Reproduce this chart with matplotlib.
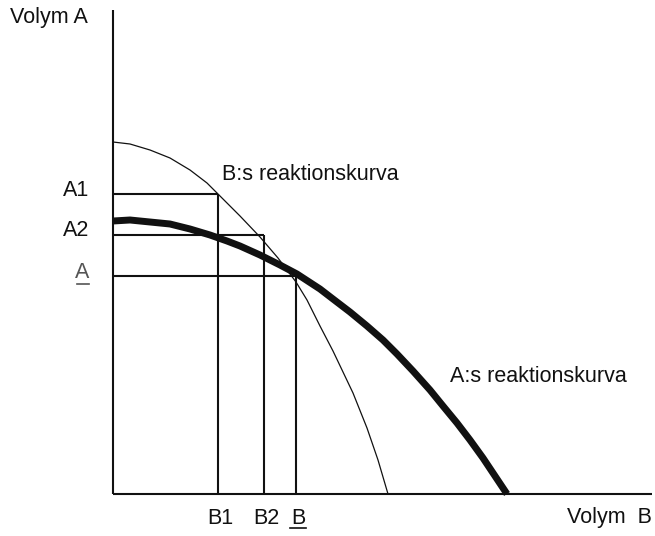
import numpy as np
import matplotlib
matplotlib.use("Agg")
import matplotlib.pyplot as plt

# values are in plot units (origin at the corner of the two axes)
# B:s reaktionskurva (thin line)
b_curve_x = [0, 17, 37, 57, 77, 94, 104, 117, 127, 147, 165, 183, 194, 207, 220, 230, 240, 254, 265, 275]
b_curve_y = [352, 350, 344, 336, 324, 311, 301, 288, 278, 257, 236, 212, 194, 168, 143, 122, 101, 66, 34, 0]

# A:s reaktionskurva (thick line)
a_curve_x = [0, 17, 37, 57, 77, 97, 114, 127, 147, 167, 184, 207, 220, 237, 254, 270, 284, 300, 317, 330, 344, 357, 370, 382, 394]
a_curve_y = [273, 274, 272, 270, 265, 259, 253, 248, 239, 229, 220, 205, 195, 182, 168, 154, 140, 123, 104, 88, 71, 54, 36, 18, 0]

# adjustment steps
a_levels = [300, 259, 218]      # A1, A2, A
b_levels = [105, 151, 183]      # B1, B2, B
a_labels = ["A1", "A2", "A"]
b_labels = ["B1", "B2", "B"]
underlined = [False, False, True]

x_end = 539     # end of the B axis
y_end = 484     # top of the A axis

plt.rcParams['font.family'] = ['Liberation Sans', 'DejaVu Sans']

fig = plt.figure(figsize=(6.55, 5.36), dpi=100)
ax = fig.add_axes([0, 0, 1, 1])
ax.set_xlim(-113, 542)
ax.set_ylim(-42, 494)
ax.axis('off')

ink = '#111111'

# axes
ax.plot([0, 0], [0, y_end], color=ink, lw=1.5, solid_capstyle='butt')
ax.plot([0, x_end], [0, 0], color=ink, lw=1.5, solid_capstyle='butt')

# step lines
for a, b in zip(a_levels, b_levels):
    ax.plot([0, b], [a, a], color=ink, lw=1.5, solid_capstyle='butt')
    ax.plot([b, b], [0, a], color=ink, lw=1.5, solid_capstyle='butt')

# reaction curves
ax.plot(b_curve_x, b_curve_y, color=ink, lw=0.9, solid_joinstyle='round')
ax.plot(a_curve_x, a_curve_y, color=ink, lw=5, solid_capstyle='butt',
        solid_joinstyle='round')

fs = 15.5
# level labels on the A axis
for a, lab, ul in zip(a_levels, a_labels, underlined):
    col = '#555555' if ul else ink
    ax.text(-24, a + 4, lab, ha='right', va='center', fontsize=fs, color=col)
    if ul:
        ax.plot([-36, -24], [a - 8, a - 8], color=col, lw=1.2)

# level labels on the B axis
for b, lab, ul in zip(b_levels, b_labels, underlined):
    ax.text(b + 2, -24, lab, ha='center', va='center', fontsize=fs, color=ink)
    if ul:
        ax.plot([b - 6, b + 10], [-34, -34], color=ink, lw=1.2)

ax.text(-103, 476, "Volym A", ha='left', va='center', fontsize=fs, color=ink)
ax.text(539, -24, "Volym  B", ha='right', va='center', fontsize=fs, color=ink)
ax.text(109, 319, "B:s reaktionskurva", ha='left', va='center', fontsize=fs, color=ink)
ax.text(337, 117, "A:s reaktionskurva", ha='left', va='center', fontsize=fs, color=ink)

fig.savefig("out.png", dpi=100, facecolor='white')
